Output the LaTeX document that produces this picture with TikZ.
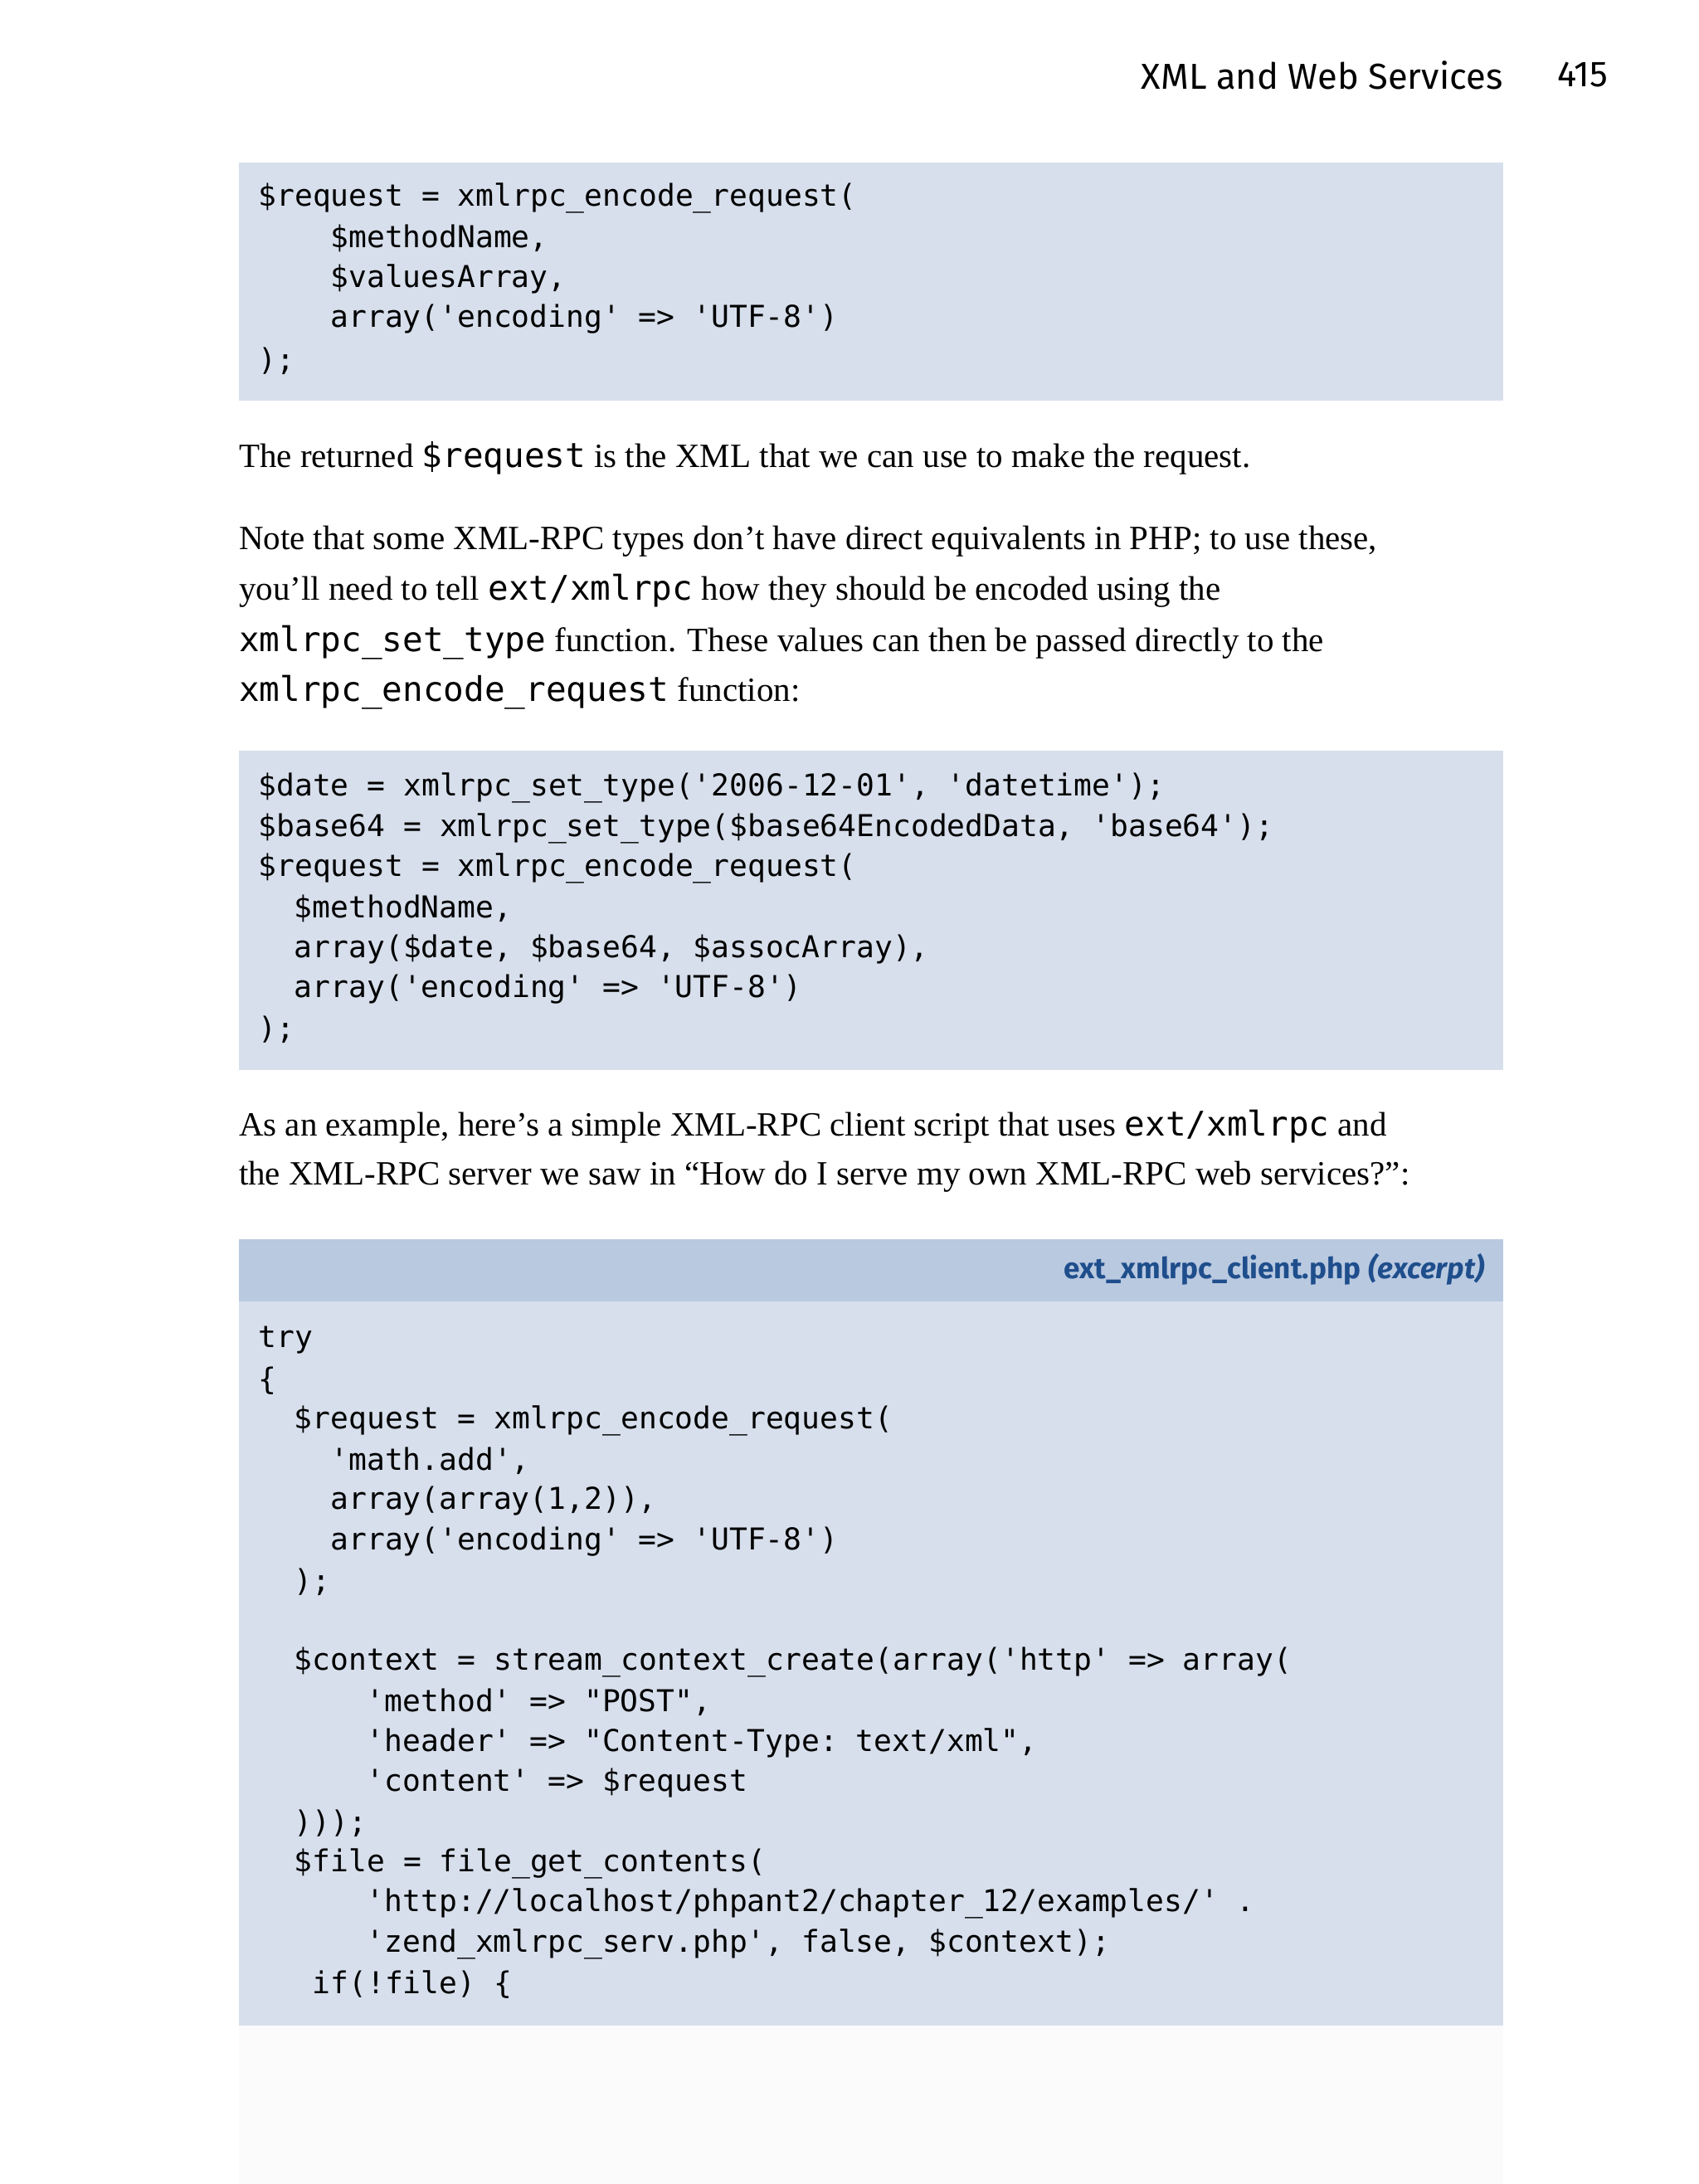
\documentclass[tikz,border=0pt]{standalone}
\usepackage{fontspec}
\setmainfont{Liberation Serif}
\setmonofont{DejaVu Sans Mono}
\newfontfamily\headfont{Fira Sans}
\definecolor{codebg}{HTML}{D7DFEC}
\definecolor{headbg}{HTML}{B9C9E0}
\definecolor{capblue}{HTML}{1F4E8C}
\definecolor{faint}{HTML}{FBFBFC}
\begin{document}
\begin{tikzpicture}[x=1pt,y=-1pt,
  code/.style={anchor=west,inner sep=0pt,font=\fontsize{21.7}{26}\selectfont\ttfamily},
  body/.style={anchor=west,inner sep=0pt,font=\fontsize{24.5}{30}\selectfont},
  box/.style={fill=codebg,draw=none}]
\useasboundingbox[fill=white] (0,0) rectangle (1224,1574);
\fill[faint] (172,1460) rectangle (1083,1574);
\node[anchor=east,inner sep=0pt,font=\headfont\fontsize{26}{30}\selectfont] (hd) at (1083,54) {XML and Web Services};
\node[anchor=east,inner sep=0pt,font=\headfont\fontsize{26}{30}\selectfont] (pg) at (1159,54) {415};
% box 1
\path[box] (172,117) rectangle (1083,289);
\node[code] (a1) at (186,143) {\$request = xmlrpc\_encode\_request(};
\node[code] (a2) at (238,172) {\$methodName,};
\node[code] (a3) at (238,201) {\$valuesArray,};
\node[code] (a4) at (238,230) {array('encoding' => 'UTF-8')};
\node[code] (a5) at (186,260) {);};
% text
\node[body] (t1) at (172,330) {The returned \texttt{\$request} is the XML that we can use to make the request.};
\node[body] (t2) at (172,390) {Note that some XML-RPC types don’t have direct equivalents in PHP; to use these,};
\node[body] (t3) at (172,426) {you’ll need to tell \texttt{ext/xmlrpc} how they should be encoded using the};
\node[body] (t4) at (172,463) {\texttt{xmlrpc\_set\_type} function. These values can then be passed directly to the};
\node[body] (t5) at (172,499) {\texttt{xmlrpc\_encode\_request} function:};
% box 2
\path[box] (172,541) rectangle (1083,771);
\node[code] (b1) at (186,568) {\$date = xmlrpc\_set\_type('2006-12-01', 'datetime');};
\node[code] (b2) at (186,597) {\$base64 = xmlrpc\_set\_type(\$base64EncodedData, 'base64');};
\node[code] (b3) at (186,626) {\$request = xmlrpc\_encode\_request(};
\node[code] (b4) at (212,655) {\$methodName,};
\node[code] (b5) at (212,684) {array(\$date, \$base64, \$assocArray),};
\node[code] (b6) at (212,713) {array('encoding' => 'UTF-8')};
\node[code] (b7) at (186,742) {);};
\node[body] (t6) at (172,812) {As an example, here’s a simple XML-RPC client script that uses \texttt{ext/xmlrpc} and};
\node[body] (t7) at (172,848) {the XML-RPC server we saw in “How do I serve my own XML-RPC web services?”:};
% box 3
\path[box] (172,938) rectangle (1083,1460);
\fill[headbg] (172,893) rectangle (1083,938);
\node[anchor=east,inner sep=0pt,text=capblue,font=\headfont\fontsize{21}{24}\selectfont] (cap) at (1070,915) {\textbf{ext\_xmlrpc\_client.php} \textbf{\textit{(excerpt)}}};
\node[code] (c1) at (186,966) {try};
\node[code] (c2) at (186,995) {\{};
\node[code] (c3) at (212,1024) {\$request = xmlrpc\_encode\_request(};
\node[code] (c4) at (238,1053) {'math.add',};
\node[code] (c5) at (238,1082) {array(array(1,2)),};
\node[code] (c6) at (238,1111) {array('encoding' => 'UTF-8')};
\node[code] (c7) at (212,1140) {);};
\node[code] (c8) at (212,1198) {\$context = stream\_context\_create(array('http' => array(};
\node[code] (c9) at (264,1227) {'method' => "POST",};
\node[code] (c10) at (264,1256) {'header' => "Content-Type: text/xml",};
\node[code] (c11) at (264,1285) {'content' => \$request};
\node[code] (c12) at (212,1314) {)));};
\node[code] (c13) at (212,1343) {\$file = file\_get\_contents(};
\node[code] (c14) at (264,1372) {'http://localhost/phpant2/chapter\_12/examples/' .};
\node[code] (c15) at (264,1401) {'zend\_xmlrpc\_serv.php', false, \$context);};
\node[code] (c16) at (225,1430) {if(!file) \{};
\end{tikzpicture}
\end{document}
